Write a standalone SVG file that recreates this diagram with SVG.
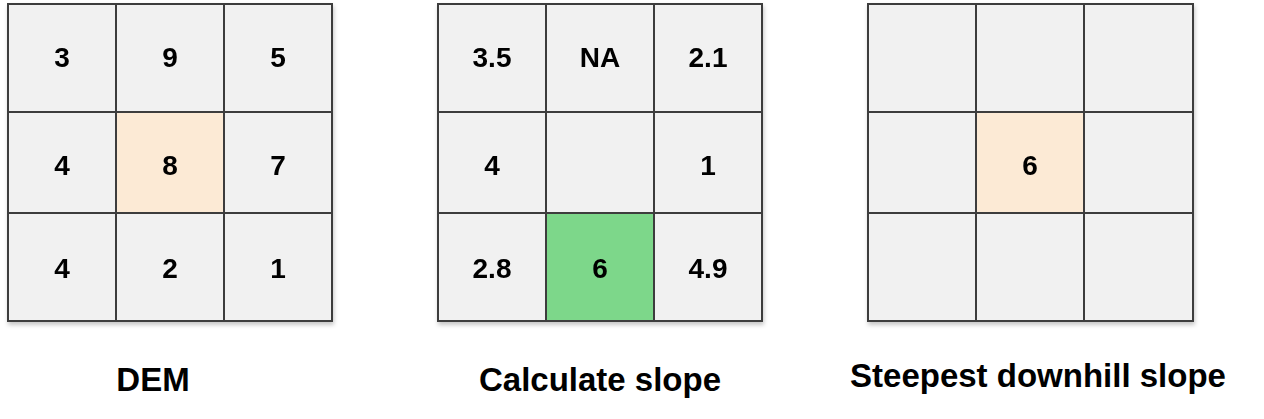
<svg xmlns="http://www.w3.org/2000/svg" width="1264" height="419" viewBox="0 0 1264 419">
<defs>
<filter id="sh" x="-5%" y="-5%" width="115%" height="115%">
<feDropShadow dx="1" dy="3" stdDeviation="2" flood-color="#000" flood-opacity="0.22"/>
</filter>
</defs>
<style>
.c{fill:#f1f1f1;stroke:#3c3c3c;stroke-width:2}
.o{fill:#fcead5}
.g{fill:#7dd78a}
.n{font-family:"Liberation Sans",Arial,sans-serif;font-weight:bold;font-size:28px;fill:#000;text-anchor:middle}
.l{font-family:"Liberation Sans",Arial,sans-serif;font-weight:bold;font-size:33px;fill:#000;text-anchor:middle}
</style>
<rect width="1264" height="419" fill="#fff"/>
<g id="dem" filter="url(#sh)">
<rect class="c" x="8" y="4" width="108" height="108"/>
<rect class="c" x="116" y="4" width="108" height="108"/>
<rect class="c" x="224" y="4" width="108" height="108"/>
<rect class="c" x="8" y="112" width="108" height="101"/>
<rect class="c o" x="116" y="112" width="108" height="101"/>
<rect class="c" x="224" y="112" width="108" height="101"/>
<rect class="c" x="8" y="213" width="108" height="108"/>
<rect class="c" x="116" y="213" width="108" height="108"/>
<rect class="c" x="224" y="213" width="108" height="108"/>
<text class="n" x="62" y="67">3</text>
<text class="n" x="170" y="67">9</text>
<text class="n" x="278" y="67">5</text>
<text class="n" x="62" y="175">4</text>
<text class="n" x="170" y="175">8</text>
<text class="n" x="278" y="175">7</text>
<text class="n" x="62" y="278">4</text>
<text class="n" x="170" y="278">2</text>
<text class="n" x="278" y="278">1</text>
</g>
<g id="slope" filter="url(#sh)">
<rect class="c" x="438" y="4" width="108" height="108"/>
<rect class="c" x="546" y="4" width="108" height="108"/>
<rect class="c" x="654" y="4" width="108" height="108"/>
<rect class="c" x="438" y="112" width="108" height="101"/>
<rect class="c" x="546" y="112" width="108" height="101"/>
<rect class="c" x="654" y="112" width="108" height="101"/>
<rect class="c" x="438" y="213" width="108" height="108"/>
<rect class="c g" x="546" y="213" width="108" height="108"/>
<rect class="c" x="654" y="213" width="108" height="108"/>
<text class="n" x="492" y="67">3.5</text>
<text class="n" x="600" y="67">NA</text>
<text class="n" x="708" y="67">2.1</text>
<text class="n" x="492" y="175">4</text>
<text class="n" x="708" y="175">1</text>
<text class="n" x="492" y="278">2.8</text>
<text class="n" x="600" y="278">6</text>
<text class="n" x="708" y="278">4.9</text>
</g>
<g id="steepest" filter="url(#sh)">
<rect class="c" x="868" y="4" width="108" height="108"/>
<rect class="c" x="976" y="4" width="108" height="108"/>
<rect class="c" x="1084" y="4" width="109" height="108"/>
<rect class="c" x="868" y="112" width="108" height="101"/>
<rect class="c o" x="976" y="112" width="108" height="101"/>
<rect class="c" x="1084" y="112" width="109" height="101"/>
<rect class="c" x="868" y="213" width="108" height="108"/>
<rect class="c" x="976" y="213" width="108" height="108"/>
<rect class="c" x="1084" y="213" width="109" height="108"/>
<text class="n" x="1030" y="175">6</text>
</g>
<g id="labels">
<text class="l" x="153" y="391">DEM</text>
<text class="l" x="600" y="391">Calculate slope</text>
<text class="l" x="1038" y="387">Steepest downhill slope</text>
</g>
<g id="connectors"/>
</svg>
